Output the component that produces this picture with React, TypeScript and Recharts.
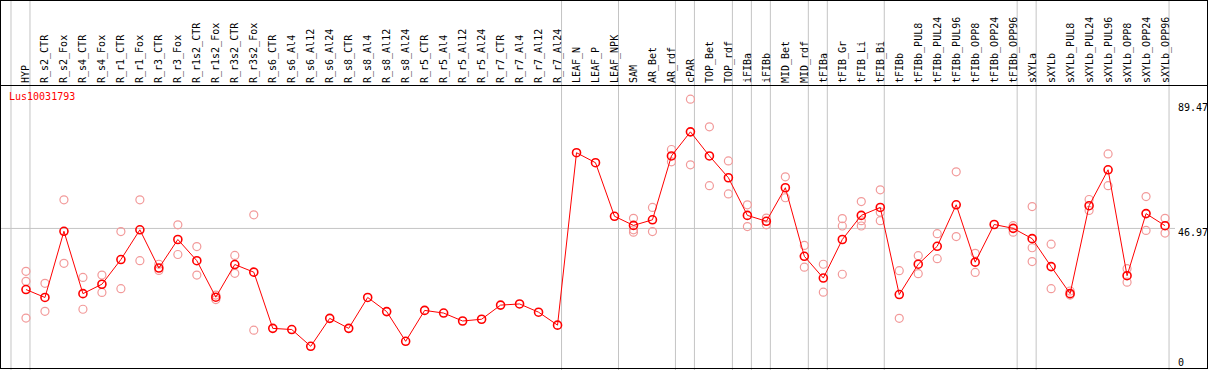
import { ScatterChart, Scatter, XAxis, YAxis, ReferenceLine } from 'recharts';

const GENE = 'Lus10031793';

const CATEGORIES = [
  'HYP', 'R_s2_CTR', 'R_s2_Fox', 'R_s4_CTR', 'R_s4_Fox', 'R_r1_CTR', 'R_r1_Fox', 'R_r3_CTR', 'R_r3_Fox',
  'R_r1s2_CTR', 'R_r1s2_Fox', 'R_r3s2_CTR', 'R_r3s2_Fox', 'R_s6_CTR', 'R_s6_Al4', 'R_s6_Al12', 'R_s6_Al24',
  'R_s8_CTR', 'R_s8_Al4', 'R_s8_Al12', 'R_s8_Al24', 'R_r5_CTR', 'R_r5_Al4', 'R_r5_Al12', 'R_r5_Al24',
  'R_r7_CTR', 'R_r7_Al4', 'R_r7_Al12', 'R_r7_Al24', 'LEAF_N', 'LEAF_P', 'LEAF_NPK', 'SAM', 'AR_Bet', 'AR_rdf',
  'cPAR', 'TOP_Bet', 'TOP_rdf', 'iFIBa', 'iFIBb', 'MID_Bet', 'MID_rdf', 'tFIBa', 'tFIB_Gr', 'tFIB_Li', 'tFIB_Bi',
  'tFIBb', 'tFIBb_PUL8', 'tFIBb_PUL24', 'tFIBb_PUL96', 'tFIBb_OPP8', 'tFIBb_OPP24', 'tFIBb_OPP96', 'sXYLa',
  'sXYLb', 'sXYLb_PUL8', 'sXYLb_PUL24', 'sXYLb_PUL96', 'sXYLb_OPP8', 'sXYLb_OPP24', 'sXYLb_OPP96',
];

const MEANS = [
  26.2, 23.5, 46.0, 24.8, 28.0, 36.4, 46.5, 33.5, 43.2, 36.0, 23.6, 34.7, 32.1,
  13.0, 12.6, 6.9, 16.4, 13.0, 23.5, 18.7, 8.6, 19.1, 18.2, 15.5, 16.1, 20.9, 21.3, 18.5, 14.1,
  72.7, 69.3, 51.1, 48.0, 49.9, 71.6, 79.8, 71.6, 64.2, 51.4, 49.4, 60.8, 37.5, 30.1, 43.2, 51.4, 54.1,
  24.5, 34.8, 40.9, 55.0, 35.5, 48.3, 47.0, 43.5, 34.0, 24.8, 54.7, 66.9, 30.9, 52.0, 47.9,
];

const REPLICATES: number[][] = [
  [32.4, 29.0, 16.5], [28.3, 18.8], [56.7, 35.1], [30.3, 19.5], [31.1, 25.2], [45.9, 26.5], [56.7, 36.0],
  [34.8, 32.7], [48.2, 38.1], [40.8, 31.1], [24.3, 22.8], [37.8, 31.7], [51.6, 12.4],
  [], [], [], [], [], [], [], [], [], [], [], [], [], [], [], [],
  [], [], [],
  [50.4, 46.5, 45.7], [54.1, 45.9], [73.8, 69.6], [90.9, 68.6], [81.5, 61.5], [69.9, 58.7], [55.0, 47.6],
  [50.5, 48.2], [64.5, 57.4], [41.2, 33.8], [34.8, 25.3], [50.3, 47.8, 31.4], [56.1, 49.6, 47.8],
  [60.1, 52.5, 49.6], [32.6, 16.4], [37.7, 31.6], [45.2, 36.7], [66.2, 44.2], [38.5, 32.0], [], [47.9, 45.7],
  [54.4, 40.4, 35.7], [41.6, 26.5], [25.7, 24.3], [56.8, 53.1], [72.3, 61.5], [33.3, 28.7], [57.8, 46.3],
  [50.4, 45.4],
];

// group boundaries: a grey line after these category indices
const GROUP_ENDS = [-1, 0, 28, 31, 34, 35, 37, 38, 39, 41, 42, 45, 52, 53, 60];
const Y_TICKS = [0, 46.97, 89.47];
const MID_VALUE = 46.97;

const W = 1209;
const H = 370;
// category i sits at 26 + 19 * i px
const X_DOMAIN = [-26 / 19, (W - 26) / 19];
// value 0 at 366.6px, 2.95px per unit
const Y_DOMAIN = [(366.6 - H) / 2.95, 366.6 / 2.95];

const FONT = '"DejaVu Sans Mono", monospace';

const meanData = MEANS.map((y, x) => ({ x, y }));
const repData = REPLICATES.flatMap((vals, x) => vals.map((y) => ({ x, y })));

const renderCategoryTick = (props: any) => {
  const { x, payload } = props;
  return (
    <text
      key={`c-${payload.value}`}
      transform={`translate(${x},83) rotate(-90)`}
      textAnchor="start"
      dominantBaseline="central"
      fontSize={10}
      fontFamily={FONT}
      fill="#000"
    >
      {CATEGORIES[payload.value]}
    </text>
  );
};

const renderValueTick = (props: any) => {
  const { y, payload } = props;
  return (
    <text
      key={`v-${payload.value}`}
      x={1178}
      y={Math.min(y + 4, 362)}
      dominantBaseline="central"
      fontSize={10}
      fontFamily={FONT}
      fill="#000"
    >
      {payload.value}
    </text>
  );
};

const MeanDot = ({ cx, cy }: any) => <circle cx={cx} cy={cy} r={4} fill="none" stroke="#ff0000" strokeWidth={1.6} />;
const RepDot = ({ cx, cy }: any) => <circle cx={cx} cy={cy} r={4} fill="none" stroke="#f29a9a" strokeWidth={1.2} />;

export default function App() {
  return (
    <div style={{ position: 'absolute', left: 0, top: 0, width: W, height: H, background: '#fff' }}>
      <ScatterChart width={W} height={H} margin={{ top: 0, right: 0, bottom: 0, left: 0 }}>
        <XAxis
          type="number"
          dataKey="x"
          orientation="top"
          height={1}
          domain={X_DOMAIN}
          allowDataOverflow
          ticks={CATEGORIES.map((_, i) => i)}
          interval={0}
          tick={renderCategoryTick}
          tickLine={false}
          axisLine={false}
        />
        <YAxis
          type="number"
          dataKey="y"
          orientation="right"
          width={1}
          domain={Y_DOMAIN}
          allowDataOverflow
          ticks={Y_TICKS}
          interval={0}
          tick={renderValueTick}
          tickLine={false}
          axisLine={false}
        />
        {GROUP_ENDS.map((g) => (
          <ReferenceLine key={g} x={g + 4 / 19} stroke="#c4c4c4" strokeWidth={1} />
        ))}
        <ReferenceLine
          segment={[{ x: X_DOMAIN[0], y: MID_VALUE }, { x: (1176 - 26) / 19, y: MID_VALUE }]}
          stroke="#c4c4c4"
          strokeWidth={1}
        />
        <Scatter data={repData} shape={<RepDot />} isAnimationActive={false} />
        <Scatter
          data={meanData}
          shape={<MeanDot />}
          line={{ stroke: '#ff0000', strokeWidth: 1 }}
          lineType="joint"
          isAnimationActive={false}
        />
      </ScatterChart>
      <div style={{ position: 'absolute', left: 9, top: 91, color: '#ff0000', fontFamily: FONT, fontSize: 10, lineHeight: '12px' }}>
        {GENE}
      </div>
      <div style={{ position: 'absolute', left: 0, top: 0, width: 1208, height: 369, border: '1px solid #000', boxSizing: 'border-box', pointerEvents: 'none' }} />
      <div style={{ position: 'absolute', left: 0, top: 85, width: 1208, height: 1, background: '#000', pointerEvents: 'none' }} />
    </div>
  );
}
